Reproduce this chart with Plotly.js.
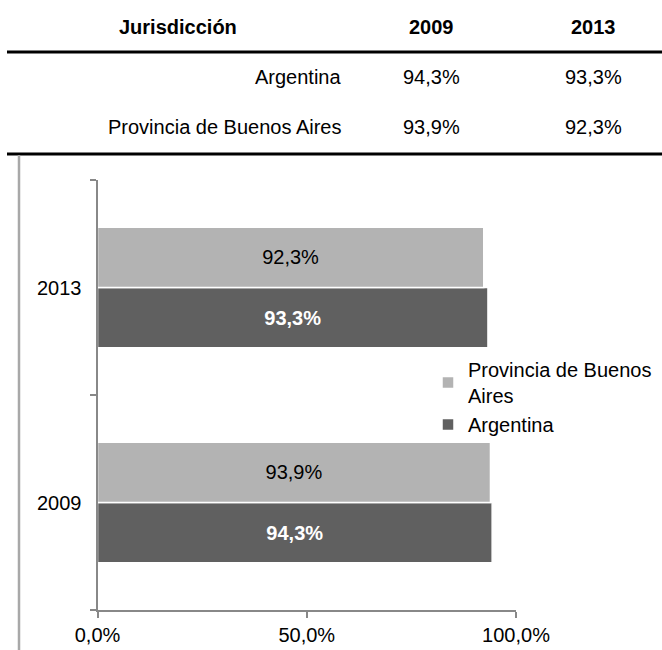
<!DOCTYPE html>
<html>
<head>
<meta charset="utf-8">
<script src="https://cdn.plot.ly/plotly-3.0.1.min.js"></script>
<style>
  html, body { margin: 0; padding: 0; background: #ffffff; }
  #chart { width: 662px; height: 650px; }
</style>
</head>
<body>
<div id="chart"></div>
<script>
// ---- Data ----
const years = ['2009', '2013'];
const jurisdicciones = ['Argentina', 'Provincia de Buenos Aires'];
const argentinaValues = [94.3, 93.3];
const provinciaValues = [93.9, 92.3];
const headerLabels = ['Jurisdicción', '2009', '2013'];
const xTickVals = [0, 50, 100];

// ---- Helpers ----
const W = 662, H = 650;
const px = x => x / W;
const py = y => 1 - y / H;
const fmt = v => v.toFixed(1).replace('.', ',') + '%';
const FONT = '"Liberation Sans", Arial, sans-serif';

const traces = [
  {
    type: 'bar', orientation: 'h', name: 'Argentina',
    y: years, x: argentinaValues,
    marker: { color: '#606060', line: { color: '#ffffff', width: 1.5 } },
    text: argentinaValues.map(fmt), textposition: 'inside', insidetextanchor: 'middle',
    textangle: 0,
    textfont: { family: FONT, size: 20, color: '#ffffff', weight: 'bold' },
    hoverinfo: 'skip'
  },
  {
    type: 'bar', orientation: 'h', name: 'Provincia de Buenos<br>Aires',
    y: years, x: provinciaValues,
    marker: { color: '#b3b3b3', line: { color: '#ffffff', width: 1.5 } },
    text: provinciaValues.map(fmt), textposition: 'inside', insidetextanchor: 'middle',
    textangle: 0,
    textfont: { family: FONT, size: 20, color: '#000000' },
    hoverinfo: 'skip'
  }
];

// ---- Table (annotations + rules) ----
const annotations = [];
const colX = [178, 431, 593];
headerLabels.forEach((h, i) => {
  annotations.push({
    xref: 'paper', yref: 'paper', x: px(colX[i]), y: py(27),
    xanchor: 'center', yanchor: 'middle', showarrow: false,
    text: '<b>' + h + '</b>', font: { family: FONT, size: 20, color: '#000' }
  });
});
const rowY = [77, 127];
const rowVals = [argentinaValues, provinciaValues];
jurisdicciones.forEach((j, r) => {
  annotations.push({
    xref: 'paper', yref: 'paper', x: px(343), y: py(rowY[r]),
    xanchor: 'right', yanchor: 'middle', showarrow: false,
    text: j, font: { family: FONT, size: 20, color: '#000' }
  });
  rowVals[r].forEach((v, c) => {
    annotations.push({
      xref: 'paper', yref: 'paper', x: px(colX[c + 1]), y: py(rowY[r]),
      xanchor: 'center', yanchor: 'middle', showarrow: false,
      text: fmt(v), font: { family: FONT, size: 20, color: '#000' }
    });
  });
});

const shapes = [
  { type: 'line', xref: 'paper', yref: 'paper', x0: px(7), x1: px(662), y0: py(52), y1: py(52),
    line: { color: '#000', width: 3 } },
  { type: 'line', xref: 'paper', yref: 'paper', x0: px(7), x1: px(662), y0: py(154), y1: py(154),
    line: { color: '#000', width: 3 } },
  { type: 'line', xref: 'paper', yref: 'paper', x0: px(19), x1: px(19), y0: py(155), y1: py(650),
    line: { color: '#a8a8a8', width: 2.5 } }
];

const layout = {
  width: W, height: H, autosize: false,
  margin: { l: 0, r: 0, t: 0, b: 0, pad: 0 },
  paper_bgcolor: '#ffffff', plot_bgcolor: '#ffffff',
  separators: ',.',
  font: { family: FONT, size: 20, color: '#000' },
  barmode: 'group', bargap: 0.44, bargroupgap: 0,
  showlegend: true,
  legend: {
    x: px(428), y: py(350), xanchor: 'left', yanchor: 'top',
    traceorder: 'reversed', font: { family: FONT, size: 20, color: '#000' },
    bgcolor: 'rgba(0,0,0,0)', tracegroupgap: 4, itemwidth: 30
  },
  xaxis: {
    domain: [px(97.5), px(516)], range: [0, 100], fixedrange: true,
    tickmode: 'array', tickvals: xTickVals, ticktext: xTickVals.map(fmt),
    showgrid: false, zeroline: false,
    showline: true, linecolor: '#888888', linewidth: 2,
    ticks: 'outside', ticklen: 6, tickwidth: 2, tickcolor: '#888888',
    tickfont: { family: FONT, size: 20, color: '#000' }
  },
  yaxis: {
    domain: [1 - 610 / H, 1 - 180 / H], type: 'category', range: [-0.5, 1.5], fixedrange: true,
    showgrid: false, zeroline: false,
    showline: true, linecolor: '#888888', linewidth: 2,
    ticks: 'outside', tickson: 'boundaries', ticklen: 6, tickwidth: 2, tickcolor: '#888888',
    ticklabelstandoff: 10,
    tickfont: { family: FONT, size: 20, color: '#000' }
  },
  annotations: annotations,
  shapes: shapes
};

Plotly.newPlot('chart', traces, layout, { displayModeBar: false, staticPlot: true });
</script>
</body>
</html>
